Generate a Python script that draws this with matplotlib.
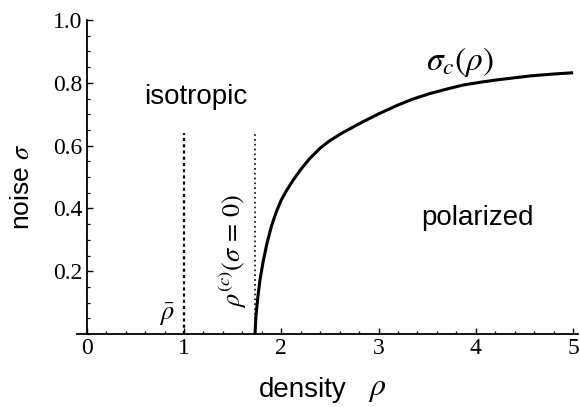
import matplotlib
matplotlib.use("Agg")
from matplotlib import pyplot as plt
from matplotlib.ticker import MultipleLocator

plt.rcParams['mathtext.fontset'] = 'stix'

# critical noise curve sigma_c(rho)
rho_curve = [1.73, 1.74, 1.76, 1.78, 1.81, 1.85, 1.90, 1.95, 2.00, 2.06,
             2.12, 2.20, 2.29, 2.40, 2.50, 2.63, 2.84, 3.00, 3.19, 3.35,
             3.53, 3.70, 3.87, 4.05, 4.21, 4.40, 4.56, 4.80, 5.00]
sigma_curve = [0.0, 0.06, 0.12, 0.17, 0.225, 0.285, 0.345, 0.39, 0.427, 0.46,
               0.489, 0.524, 0.558, 0.592, 0.616, 0.641, 0.676, 0.701, 0.728, 0.748,
               0.766, 0.780, 0.793, 0.802, 0.809, 0.816, 0.822, 0.828, 0.832]

rho_bar = 1.0          # dashed line
rho_c0 = 1.73          # dotted line, rho^(c)(sigma=0)
line_top = 0.64

x_ticks = [0, 1, 2, 3, 4, 5]
y_ticks = [0.2, 0.4, 0.6, 0.8, 1.0]

fig = plt.figure(figsize=(5.8, 4.07), dpi=100)
ax = fig.add_axes([77 / 580, 73 / 407, 501 / 580, 314 / 407])

ax.plot(rho_curve, sigma_curve, color='black', lw=2.2, solid_capstyle='butt',
        solid_joinstyle='round', zorder=3)
ax.plot([rho_bar, rho_bar], [0, line_top], color='black', lw=1.6, dashes=[1.4, 1.4])
ax.plot([rho_c0, rho_c0], [0, line_top], color='black', lw=1.2, dashes=[1.0, 1.9])

ax.set_xlim(-0.1, 5.05)
ax.set_ylim(0, 1.0)

ax.spines['left'].set_position(('data', 0))
ax.spines['right'].set_visible(False)
ax.spines['top'].set_visible(False)
for s in ('left', 'bottom'):
    ax.spines[s].set_linewidth(1.3)

ax.set_xticks(x_ticks)
ax.set_yticks(y_ticks)
ax.set_xticklabels([str(t) for t in x_ticks])
ax.set_yticklabels(['%.1f' % t for t in y_ticks])
ax.xaxis.set_minor_locator(MultipleLocator(0.2))
ax.yaxis.set_minor_locator(MultipleLocator(0.05))
ax.tick_params(which='major', direction='in', length=4.5, width=1.0,
               labelsize=17, pad=3)
ax.tick_params(which='minor', direction='in', length=2.5, width=0.9)
for lab in ax.get_xticklabels() + ax.get_yticklabels():
    lab.set_family('Liberation Serif')

# axis labels
fig.text(22 / 580, 1 - 187 / 407, r'noise $\sigma$', rotation=90, ha='center', va='center',
         fontsize=19, family='Liberation Sans')
fig.text(303 / 580, 1 - 390 / 407, 'density', ha='center', va='center',
         fontsize=20, family='Liberation Sans')
fig.text(377 / 580, 1 - 388 / 407, r'$\rho$', ha='center', va='center', fontsize=23)

# region / curve labels
ax.text(1.12, 0.755, 'isotropic', ha='center', va='center', fontsize=20,
        family='Liberation Sans')
ax.text(4.02, 0.37, 'polarized', ha='center', va='center', fontsize=20,
        family='Liberation Sans')
ax.text(3.84, 0.865, r'$\sigma_c(\rho)$', ha='center', va='center', fontsize=24)
ax.text(0.82, 0.06, r'$\bar{\rho}$', ha='center', va='center', fontsize=19)
ax.text(1.50, 0.265, r'$\rho^{(c)}(\sigma\,=\,0)$', rotation=90, ha='center', va='center',
        fontsize=19)

fig.savefig('out.png', dpi=100)
